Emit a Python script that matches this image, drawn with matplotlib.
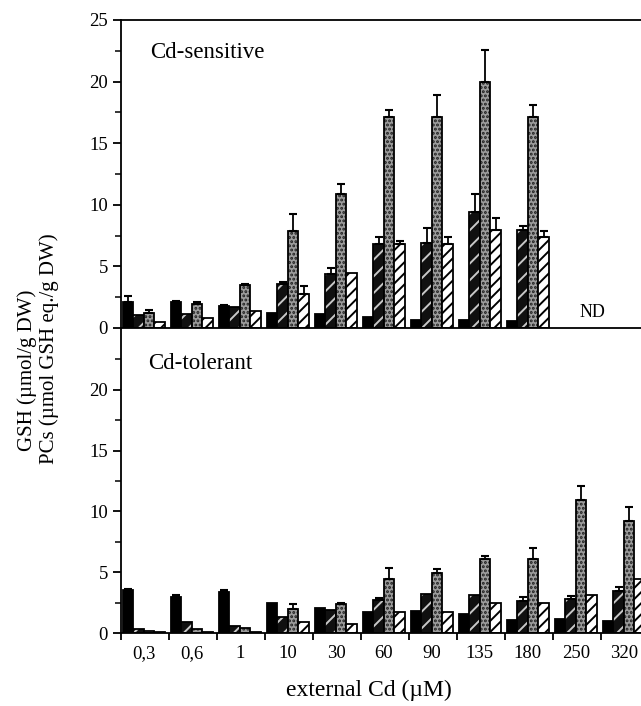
import numpy as np
import matplotlib.pyplot as plt
from matplotlib.ticker import MultipleLocator, FixedLocator

plt.rcParams['font.family'] = ['Liberation Serif', 'DejaVu Serif']
plt.rcParams['hatch.linewidth'] = 1.4

nan = np.nan
doses = ['0,3', '0,6', '1', '10', '30', '60', '90', '135', '180', '250', '320']

# Cd-sensitive (no data for 250 and 320 -> ND)
sens_gsh = [2.1, 2.1, 1.75, 1.2, 1.1, 0.9, 0.65, 0.65, 0.55, nan, nan]
sens_pc2 = [1.05, 1.15, 1.7, 3.6, 4.4, 6.85, 6.9, 9.45, 7.95, nan, nan]
sens_pc3 = [1.25, 1.95, 3.45, 7.85, 10.9, 17.1, 17.1, 20.0, 17.1, nan, nan]
sens_pc4 = [0.45, 0.8, 1.35, 2.8, 4.5, 6.85, 6.85, 7.95, 7.35, nan, nan]
sens_gsh_err = [0.5, 0.1, 0.15, 0, 0, 0, 0, 0, 0, nan, nan]
sens_pc2_err = [0, 0, 0, 0.1, 0.5, 0.5, 1.2, 1.4, 0.35, nan, nan]
sens_pc3_err = [0.2, 0.15, 0.15, 1.4, 0.8, 0.6, 1.8, 2.6, 1.0, nan, nan]
sens_pc4_err = [0, 0, 0, 0.6, 0, 0.25, 0.5, 1.0, 0.55, nan, nan]

# Cd-tolerant
tol_gsh = [3.5, 2.95, 3.4, 2.45, 2.05, 1.75, 1.8, 1.6, 1.1, 1.15, 0.95]
tol_pc2 = [0.3, 0.9, 0.55, 1.35, 1.9, 2.75, 3.2, 3.15, 2.6, 2.8, 3.45]
tol_pc3 = [0.15, 0.35, 0.4, 2.0, 2.35, 4.45, 4.95, 6.1, 6.1, 10.95, 9.2]
tol_pc4 = [0.05, 0.1, 0.05, 0.9, 0.7, 1.7, 1.7, 2.5, 2.5, 3.1, 4.45]
tol_gsh_err = [0.15, 0.15, 0.15, 0, 0, 0, 0, 0, 0, 0, 0]
tol_pc2_err = [0, 0, 0, 0, 0, 0.15, 0, 0, 0.35, 0.25, 0.35]
tol_pc3_err = [0, 0, 0, 0.4, 0.15, 0.9, 0.3, 0.2, 0.9, 1.15, 1.2]
tol_pc4_err = [0, 0, 0, 0, 0, 0, 0, 0, 0, 0, 0]

# face, hatch colour, hatch
styles = [('black', 'black', None),
          ('#101010', '#c8c8c8', '//'),
          ('#9c9c9c', '#202020', '....'),
          ('white', 'black', '///')]

width = 0.219
pad = 0.04


def draw_panel(ax, series, errors):
    x = np.arange(len(doses))
    for k, (vals, errs) in enumerate(zip(series, errors)):
        vals = np.array(vals, dtype=float)
        errs = np.array(errs, dtype=float)
        pos = x + pad + width * (k + 0.5)
        face, hcol, hatch = styles[k]
        ax.bar(pos, vals, width, color=face, edgecolor=hcol, hatch=hatch, linewidth=0)
        ax.bar(pos, vals, width, fill=False, edgecolor='black', linewidth=1.3)
        ok = np.nan_to_num(errs) > 0
        ax.errorbar(pos[ok], vals[ok], yerr=[np.zeros(ok.sum()), errs[ok]], fmt='none',
                    ecolor='black', elinewidth=1.3, capsize=3, capthick=1.5)
    ax.set_xlim(0, 520 / 48)
    ax.set_ylim(0, 25)
    ax.spines['right'].set_visible(False)
    for s in ax.spines.values():
        s.set_linewidth(1.3)
    ax.yaxis.set_minor_locator(MultipleLocator(2.5))
    ax.tick_params(axis='y', which='major', direction='out', length=6, width=1.3, labelsize=13.5)
    ax.tick_params(axis='y', which='minor', direction='out', length=4, width=1.1)


fig = plt.figure(figsize=(6.41, 7.06), dpi=100)
ax1 = fig.add_axes([121 / 641, 1 - 328 / 706, 520 / 641, 308 / 706])
ax2 = fig.add_axes([121 / 641, 1 - 633 / 706, 520 / 641, 304 / 706])

draw_panel(ax1, [sens_gsh, sens_pc2, sens_pc3, sens_pc4],
           [sens_gsh_err, sens_pc2_err, sens_pc3_err, sens_pc4_err])
draw_panel(ax2, [tol_gsh, tol_pc2, tol_pc3, tol_pc4],
           [tol_gsh_err, tol_pc2_err, tol_pc3_err, tol_pc4_err])

ax1.yaxis.set_major_locator(FixedLocator([0, 5, 10, 15, 20, 25]))
ax1.tick_params(axis='x', which='both', bottom=False, labelbottom=False)

ax2.spines['top'].set_visible(False)
ax2.yaxis.set_major_locator(FixedLocator([0, 5, 10, 15, 20]))
ax2.yaxis.set_minor_locator(FixedLocator([2.5, 7.5, 12.5, 17.5, 22.5]))
ax2.xaxis.set_major_locator(FixedLocator(np.arange(len(doses))))
ax2.xaxis.set_minor_locator(FixedLocator(np.arange(len(doses)) + pad + 2 * width))
ax2.set_xticklabels([], minor=False)
ax2.set_xticklabels(doses, minor=True)
ax2.tick_params(axis='x', which='major', direction='out', length=5, width=1.3)
ax2.tick_params(axis='x', which='minor', length=0, labelsize=13.5, pad=9)

ax1.text(0.6, 21.9, 'Cd-sensitive', fontsize=16.5, va='baseline')
ax1.text(9.83, 0.6, 'ND', fontsize=13, ha='center', va='bottom')
ax2.text(0.56, 21.7, 'Cd-tolerant', fontsize=16.5, va='baseline')

fig.text(369 / 641, 1 - 690 / 706, 'external Cd (µM)', fontsize=17, ha='center', va='center')
fig.text(27 / 641, 1 - 370 / 706, 'GSH (µmol/g DW)', fontsize=15, rotation=90,
         ha='center', va='center')
fig.text(49 / 641, 1 - 349 / 706, 'PCs (µmol GSH eq./g DW)', fontsize=15, rotation=90,
         ha='center', va='center')

fig.savefig('out.png', dpi=100)
